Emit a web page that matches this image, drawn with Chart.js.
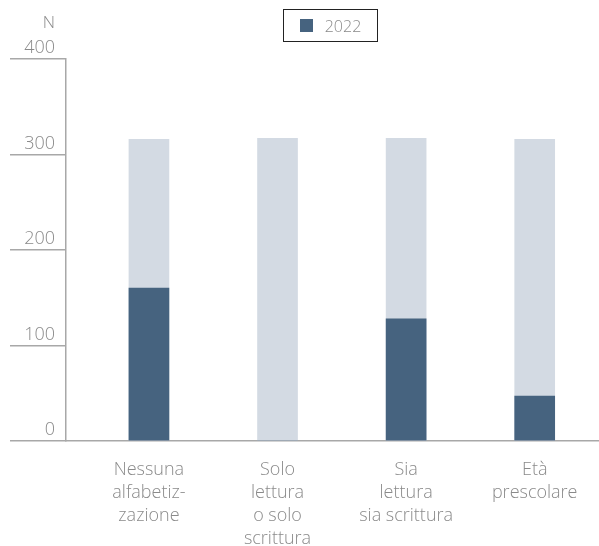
<!DOCTYPE html>
<html>
<head>
<meta charset="utf-8">
<script src="https://cdn.jsdelivr.net/npm/chart.js@4"></script>
<style>
  body { margin: 0; background: #fff; }
  #wrap { position: relative; width: 599px; height: 546px; }
  #legend {
    position: absolute; left: 283px; top: 9px; width: 93px; height: 31px;
    border: 1px solid #222; box-sizing: content-box;
    font-family: "Open Sans", sans-serif; font-weight: 300; font-size: 16px; color: #8a8a8a;
    display: flex; align-items: center; justify-content: center;
  }
  #legend span.box { display: inline-block; width: 13px; height: 13px; margin-right: 12px; }
</style>
</head>
<body>
<div id="wrap">
  <canvas id="chart"></canvas>
  <div id="legend"></div>
</div>
<script>
// data
var categories = [
    ['Nessuna', 'alfabetiz-', 'zazione'],
    ['Solo', 'lettura', 'o solo', 'scrittura'],
    ['Sia', 'lettura', 'sia scrittura'],
    ['Età', 'prescolare']
];
var totals = [316, 317, 317, 316];
var values2022 = [160, 0, 128, 47];
var yTicks = [0, 100, 200, 300, 400];

var dark = '#46637f';
var light = '#d3dae3';
var axisGrey = '#a8a8a8';
var textGrey = '#8a8a8a';

function toPoints(arr) {
    return arr.map(function(v, i) { return {x: i, y: v}; });
}

var unitLabel = {
    id: 'unitLabel',
    afterDraw: function(chart) {
        var ctx = chart.ctx;
        ctx.save();
        ctx.font = '300 17px "Open Sans", sans-serif';
        ctx.fillStyle = textGrey;
        ctx.textAlign = 'right';
        ctx.textBaseline = 'middle';
        ctx.fillText('N', 55, 23);
        ctx.restore();
    }
};

var chart = new Chart(document.getElementById('chart'), {
    type: 'bar',
    data: {
        datasets: [{
            label: '2022',
            data: toPoints(values2022),
            backgroundColor: dark,
            grouped: false,
            barThickness: 40
        }, {
            label: 'totale',
            data: toPoints(totals),
            backgroundColor: light,
            grouped: false,
            barThickness: 40
        }]
    },
    plugins: [unitLabel],
    options: {
        responsive: true,
        maintainAspectRatio: false,
        animation: false,
        layout: { padding: { top: 59, right: 0, bottom: 0, left: 0 } },
        plugins: {
            legend: { display: false },
            tooltip: { enabled: false }
        },
        scales: {
            x: {
                type: 'linear',
                offset: false,
                min: -0.645,
                max: 3.5,
                afterBuildTicks: function(scale) {
                    scale.ticks = categories.map(function(c, i) { return {value: i}; });
                },
                afterFit: function(scale) { scale.height = 105; },
                grid: { display: false },
                border: { display: true, color: axisGrey, width: 1.5 },
                ticks: {
                    autoSkip: false,
                    maxRotation: 0,
                    padding: 9,
                    color: textGrey,
                    font: { family: '"Open Sans", sans-serif', weight: 300, size: 18, lineHeight: 1.28 },
                    callback: function(value) { return categories[value]; }
                }
            },
            y: {
                min: 0,
                max: 400,
                afterFit: function(scale) { scale.width = 66; },
                afterBuildTicks: function(scale) {
                    scale.ticks = yTicks.map(function(v) { return {value: v}; });
                },
                grid: {
                    drawOnChartArea: false,
                    drawTicks: true,
                    tickLength: 56,
                    color: axisGrey,
                    lineWidth: 1.5
                },
                border: { display: true, color: axisGrey, width: 1.5 },
                ticks: {
                    padding: -45,
                    labelOffset: -11,
                    color: textGrey,
                    font: { family: '"Open Sans", sans-serif', weight: 300, size: 18 }
                }
            }
        }
    }
});

// legend built from the first dataset
var ds = chart.data.datasets[0];
document.getElementById('legend').innerHTML =
    '<span class="box" style="background:' + ds.backgroundColor + '"></span>' + ds.label;
</script>
</body>
</html>
